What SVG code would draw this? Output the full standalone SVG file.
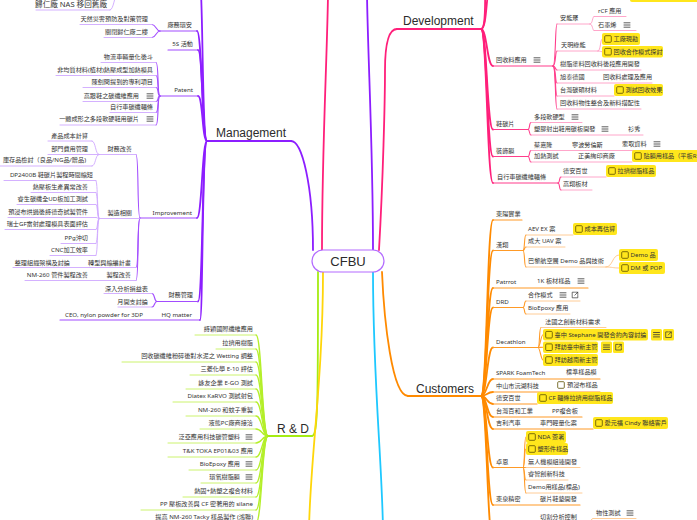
<svg xmlns="http://www.w3.org/2000/svg" width="697" height="520" viewBox="0 0 697 520">
<style>
text{font-family:"Noto Sans","Noto Sans CJK TC",sans-serif;font-size:6.15px;fill:#333}
.h{font-family:"Liberation Sans","Noto Sans CJK TC",sans-serif;font-size:12px;fill:#2b2b2b}
.c{font-size:13px;text-anchor:middle}
.big{font-size:7.6px}
.e{text-anchor:end}
path,line{fill:none;stroke-linecap:round}
.pm{stroke:#8c1eff;stroke-width:1.8}
.pd{stroke:#a24cff;stroke-width:1.1}
.pl{stroke:#cfa8ff;stroke-width:0.9}
.km{stroke:#ff1f7a;stroke-width:1.8}
.kd{stroke:#ff3d8b;stroke-width:1.1}
.kl{stroke:#ff9cc4;stroke-width:0.9}
.om{stroke:#ff8a00;stroke-width:1.8}
.od{stroke:#ff9a26;stroke-width:1.1}
.ol{stroke:#ffc68a;stroke-width:0.9}
.lm{stroke:#a5ec12;stroke-width:1.8}
.lc{stroke:#b4ef2a;stroke-width:1.3}
.ll{stroke:#c6f25e;stroke-width:0.9}
.ym{stroke:#ffd60a;stroke-width:1.8}
.cm{stroke:#1ec8ff;stroke-width:1.8}
.task{fill:#ffe61c}
</style>
<defs>
<path id="menu" d="M-3 -2.2H3M-3 0H3M-3 2.2H3" stroke="#333" stroke-width="0.8"/>
<path id="ext" d="M-0.5 -2.8H-2.8V2.8H2.8V0.5M0.5 -2.8H2.8V-0.5M2.8 -2.8L-0.2 0.2" stroke="#333" stroke-width="0.7" fill="none"/>
<rect id="cb" x="-3.3" y="-3.3" width="6.6" height="6.6" rx="1" fill="none" stroke="#5c4f00" stroke-width="0.8"/>
</defs>
<rect width="697" height="520" fill="#fff"/>

<g id="connectors">
<path class="pm" d="M313 250C313 185 302 141 291 141"/>
<path class="km" d="M322 250C322 150 327 60 328 -5"/>
<path class="pm" d="M373 250C373 150 368 60 367 -5"/>
<path class="km" d="M379 250C383 180 385 100 385 70C385 40 390 29 397 29"/>
<path class="lm" d="M318 272C318 400 318 436 312 436"/>
<path class="ym" d="M323 272C323 380 310 460 309 530"/>
<path class="cm" d="M373 272C373 380 382 460 383 530"/>
<path class="om" d="M382 272C384 320 392 396 408 396"/>
<path class="pm" d="M207 141C202 141 203 -10 200 -20"/>
<path class="pm" d="M207 141C202 141 202 31 197 31"/>
<path class="pm" d="M207 141C202 141 203 50 198 50"/>
<path class="pm" d="M207 141C202 141 203 96 198 96"/>
<path class="pm" d="M207 141C202 141 202 218 197 218"/>
<path class="pm" d="M207 141C202 141 203 301.5 198 301.5"/>
<path class="pm" d="M207 141C202 141 203 320 200 320"/>
<path class="pl" d="M110 10C114 10 114 -5 118 -8"/>
<path class="pd" d="M160 31C156 31 156 24.5 152 24.5"/>
<path class="pd" d="M160 31C156 31 156 37.5 152 37.5"/>
<path class="pd" d="M160 96C157 96 159 62.5 156 62.5"/>
<path class="pd" d="M160 96C157 96 159 75.5 156 75.5"/>
<path class="pd" d="M160 96C157 96 159 87.5 156 87.5"/>
<path class="pd" d="M160 96C157 96 159 101.5 156 101.5"/>
<path class="pd" d="M160 96C157 96 159 112.5 156 112.5"/>
<path class="pd" d="M160 96C157 96 159 125 156 125"/>
<path class="pd" d="M140 218C137 218 139 154.5 136 154.5"/>
<path class="pd" d="M140 218C137 218 139 267.5 136 267.5"/>
<path class="pd" d="M140 218C137 218 139 280.5 136 280.5"/>
<path class="pl" d="M99 154.5C95 154.5 96 141 92 141"/>
<path class="pl" d="M99 154.5C95 154.5 96 166 92 166"/>
<path class="pl" d="M99 218.5C97 218.5 98 180.5 96 180.5"/>
<path class="pl" d="M99 218.5C97 218.5 98 192.5 96 192.5"/>
<path class="pl" d="M99 218.5C97 218.5 98 204.5 96 204.5"/>
<path class="pl" d="M99 218.5C97 218.5 98 217.5 96 217.5"/>
<path class="pl" d="M99 218.5C97 218.5 98 229.5 96 229.5"/>
<path class="pl" d="M99 218.5C97 218.5 98 243.5 96 243.5"/>
<path class="pl" d="M99 218.5C97 218.5 98 255.5 96 255.5"/>
<path class="pd" d="M157 301.5C154 301.5 155 293.5 152 293.5"/>
<path class="pd" d="M157 301.5C154 301.5 155 307 152 307"/>
<path class="lc" d="M268 436C262 436 262 335 256 335"/>
<path class="lc" d="M268 436C262 436 262 349 256 349"/>
<path class="lc" d="M268 436C262 436 262 362 256 362"/>
<path class="lc" d="M268 436C262 436 262 375 256 375"/>
<path class="lc" d="M268 436C262 436 262 389 256 389"/>
<path class="lc" d="M268 436C262 436 262 402 256 402"/>
<path class="lc" d="M268 436C262 436 262 416 256 416"/>
<path class="lc" d="M268 436C262 436 262 429 256 429"/>
<path class="lc" d="M268 436C262 436 262 443 256 443"/>
<path class="lc" d="M268 436C262 436 262 457 256 457"/>
<path class="lc" d="M268 436C262 436 262 470 256 470"/>
<path class="lc" d="M268 436C262 436 262 483 256 483"/>
<path class="lc" d="M268 436C262 436 262 497 256 497"/>
<path class="lc" d="M268 436C262 436 262 510 256 510"/>
<path class="lc" d="M268 436C262 436 262 523 256 523"/>
<path class="km" d="M481 29C487 29 486 -5 490 -20"/>
<path class="km" d="M481 29C487 29 484 -5 486 -20"/>
<path class="km" d="M481 29C487 29 487 66 493 66"/>
<path class="km" d="M481 29C487 29 487 129.5 493 129.5"/>
<path class="km" d="M481 29C487 29 487 156.5 493 156.5"/>
<path class="km" d="M481 29C487 29 487 183 493 183"/>
<path class="kd" d="M553 66C556 66 555 24 557 24"/>
<path class="kd" d="M553 66C556 66 555 51 557 51"/>
<path class="kd" d="M553 66C556 66 555 70 557 70"/>
<path class="kd" d="M553 66C556 66 555 83 557 83"/>
<path class="kd" d="M553 66C556 66 555 96 557 96"/>
<path class="kd" d="M553 66C556 66 555 109 557 109"/>
<path class="kl" d="M590 24C593 24 592 16.5 594 16.5"/>
<path class="kl" d="M590 24C593 24 592 30.5 594 30.5"/>
<path class="kl" d="M598 51C601 51 600 39 602 39"/>
<path class="kl" d="M598 51C601 51 600 51.7 602 51.7"/>
<path class="kd" d="M528 129.5C530 129.5 529 122.5 531 122.5"/>
<path class="kd" d="M528 129.5C530 129.5 529 135 531 135"/>
<path class="kd" d="M528 156.5C530 156.5 529 150.5 531 150.5"/>
<path class="kd" d="M528 156.5C530 156.5 529 162 531 162"/>
<path class="kd" d="M558 183C560 183 559 177 561 177"/>
<path class="kd" d="M558 183C560 183 559 190 561 190"/>
<path class="om" d="M481 396C487 396 487 220 493 220"/>
<path class="om" d="M481 396C487 396 487 250.5 493 250.5"/>
<path class="om" d="M481 396C487 396 487 288 493 288"/>
<path class="om" d="M481 396C487 396 487 307.5 493 307.5"/>
<path class="om" d="M481 396C487 396 487 347.5 493 347.5"/>
<path class="om" d="M481 396C487 396 487 379 493 379"/>
<path class="om" d="M481 396C487 396 487 392 493 392"/>
<path class="om" d="M481 396C487 396 487 404 493 404"/>
<path class="om" d="M481 396C487 396 487 417 493 417"/>
<path class="om" d="M481 396C487 396 487 429 493 429"/>
<path class="om" d="M481 396C487 396 487 467.5 493 467.5"/>
<path class="om" d="M481 396C487 396 487 505 493 505"/>
<path class="om" d="M481 396C487 396 487 540 493 540"/>
<path class="od" d="M523 250.5C525 250.5 524 235 526 235"/>
<path class="od" d="M523 250.5C525 250.5 524 247 526 247"/>
<path class="od" d="M523 250.5C525 250.5 524 267 526 267"/>
<path class="ol" d="M606 267C613 267 612 255 619 255"/>
<path class="ol" d="M606 267C613 267 612 268 619 268"/>
<path class="od" d="M523 307.5C525 307.5 524 301 526 301"/>
<path class="od" d="M523 307.5C525 307.5 524 314 526 314"/>
<path class="od" d="M538 347.5C540 347.5 539 327.5 541 327.5"/>
<path class="od" d="M538 347.5C540 347.5 541 334.7 543 334.7"/>
<path class="od" d="M538 347.5C540 347.5 541 347.2 543 347.2"/>
<path class="od" d="M538 347.5C540 347.5 541 360 543 360"/>
<path class="od" d="M523 467.5C525 467.5 524 437 526 437"/>
<path class="od" d="M523 467.5C525 467.5 524 449 526 449"/>
<path class="od" d="M523 467.5C525 467.5 524 467.5 526 467.5"/>
<path class="od" d="M523 467.5C525 467.5 524 480 526 480"/>
<path class="od" d="M523 467.5C525 467.5 524 493 526 493"/>
<path class="ol" d="M585 530C589 530 589 518.5 593 518.5"/>
</g>

<g id="cfbu"><rect x="312" y="250" width="72" height="22" rx="11" fill="#fff" stroke="#b36bff" stroke-width="1.2"/><text class="h c" x="348" y="266">CFBU</text></g>

<g id="management"><text class="h" x="216" y="136.5">Management</text><line class="pm" x1="207" y1="141" x2="291" y2="141"/></g>
<g id="m-nas"><text class="e big" x="107" y="7">歸仁廠 NAS 移回舊廠</text><line class="pl" x1="36" y1="10" x2="110" y2="10"/></g>
<g id="m-env"><text class="e" x="192" y="27.2">廠務環安</text><line class="pd" x1="160" y1="31" x2="197" y2="31"/></g>
<g id="m-env1"><text class="e" x="148" y="21.2">天然災害預防及對策管理</text><line class="pl" x1="80" y1="24.5" x2="152" y2="24.5"/></g>
<g id="m-env2"><text class="e" x="148" y="34.2">關閉歸仁廠二樓</text><line class="pl" x1="104" y1="37.5" x2="152" y2="37.5"/></g>
<g id="m-5s"><text class="e" x="193" y="46.2">5S 活動</text><line class="pd" x1="168" y1="50" x2="198" y2="50"/></g>
<g id="m-patent"><text class="e" x="193" y="92.2">Patent</text><line class="pd" x1="160" y1="96" x2="198" y2="96"/></g>
<g id="m-p1"><text class="e" x="153" y="59.2">物流車輛量化後斗</text><line class="pl" x1="101" y1="62.5" x2="156" y2="62.5"/></g>
<g id="m-p2"><text class="e" x="153" y="72.2">非均質材料(植材)熱壓成型加熱模具</text><line class="pl" x1="56" y1="75.5" x2="156" y2="75.5"/></g>
<g id="m-p3"><text class="e" x="153" y="84.2">陳劍問提到的專利項目</text><line class="pl" x1="83" y1="87.5" x2="156" y2="87.5"/></g>
<g id="m-p4"><text class="e" x="139" y="98.2">高跟鞋之碳纖維應用</text><use href="#menu" x="150" y="96"/><line class="pl" x1="83" y1="101.5" x2="156" y2="101.5"/></g>
<g id="m-p5"><text class="e" x="153" y="109.2">自行車碳纖輻條</text><line class="pl" x1="110" y1="112.5" x2="156" y2="112.5"/></g>
<g id="m-p6"><text class="e" x="139" y="121.2">一體成形之多段軟硬鞋用碳片</text><use href="#menu" x="150" y="119"/><line class="pl" x1="60" y1="125" x2="156" y2="125"/></g>
<g id="m-imp"><text class="e" x="192" y="215.2">Improvement</text><line class="pd" x1="140" y1="218" x2="197" y2="218"/></g>
<g id="m-fin"><text class="e" x="132" y="151.2">財務改善</text><line class="pl" x1="99" y1="154.5" x2="136" y2="154.5"/></g>
<g id="m-fin1"><text class="e" x="88" y="138.2">產品成本計算</text><line class="pl" x1="48" y1="141" x2="92" y2="141"/></g>
<g id="m-fin2"><text class="e" x="88" y="151.2">部門費用管理</text><line class="pl" x1="48" y1="154.5" x2="99" y2="154.5"/></g>
<g id="m-fin3"><text class="e" x="86" y="162.2">庫存品檢討（良品/NG品/贈品)</text><line class="pl" x1="0" y1="166" x2="92" y2="166"/></g>
<g id="m-mfg"><text class="e" x="132" y="215.2">製造相關</text><line class="pl" x1="99" y1="218.5" x2="140" y2="218.5"/></g>
<g id="m-mfg1"><text class="e" x="93" y="177.2">DP2400B 鞋碳片製程時間縮短</text><line class="pl" x1="4" y1="180.5" x2="96" y2="180.5"/></g>
<g id="m-mfg2"><text class="e" x="88" y="189.2">熱壓板生產異常改善</text><line class="pl" x1="31" y1="192.5" x2="96" y2="192.5"/></g>
<g id="m-mfg3"><text class="e" x="88" y="201.2">睿生碳纖全UD板加工測試</text><line class="pl" x1="17" y1="204.5" x2="96" y2="204.5"/></g>
<g id="m-mfg4"><text class="e" x="88" y="214.2">預浸布烘過後詩德奇試製管件</text><line class="pl" x1="8" y1="217.5" x2="96" y2="217.5"/></g>
<g id="m-mfg5"><text class="e" x="88" y="226.2">瑞士GF雷射處理模具表面評估</text><line class="pl" x1="5" y1="229.5" x2="96" y2="229.5"/></g>
<g id="m-mfg6"><text class="e" x="88" y="240.2">PPg沖切</text><line class="pl" x1="61" y1="243.5" x2="96" y2="243.5"/></g>
<g id="m-mfg7"><text class="e" x="88" y="252.2">CNC加工效率</text><line class="pl" x1="50" y1="255.5" x2="96" y2="255.5"/></g>
<g id="m-trans"><text class="e" x="131" y="265.2">轉型與縮編計畫</text><text class="e" x="70" y="265.2">整理組織架構及討論</text><line class="pl" x1="13" y1="267.5" x2="136" y2="267.5"/></g>
<g id="m-proc"><text class="e" x="131" y="277.2">製程改善</text><text class="e" x="88" y="277.2">NM-260 管件製程改善</text><line class="pl" x1="25" y1="280.5" x2="136" y2="280.5"/></g>
<g id="m-fm"><text class="e" x="193" y="297.2">財務管理</text><line class="pd" x1="157" y1="301.5" x2="198" y2="301.5"/></g>
<g id="m-fm1"><text class="e" x="148" y="291.2">深入分析損益表</text><line class="pl" x1="104" y1="293.5" x2="152" y2="293.5"/></g>
<g id="m-fm2"><text class="e" x="148" y="304.2">月開支討論</text><line class="pl" x1="118" y1="307" x2="152" y2="307"/></g>
<g id="m-hq"><text class="e" x="192" y="317.2">HQ matter</text><text class="e" x="143" y="317.2">CEO, nylon powder for 3DP</text><line class="pd" x1="60" y1="320" x2="200" y2="320"/></g>

<g id="rd"><text class="h" x="277" y="432.5">R &amp; D</text><line class="lm" x1="268" y1="436" x2="312" y2="436"/></g>
<g id="rd1"><text class="e" x="253" y="331.2">詩穎國際纖維應用</text><line class="ll" x1="195" y1="335" x2="256" y2="335"/></g>
<g id="rd2"><text class="e" x="253" y="345.2">拉擠用樹脂</text><line class="ll" x1="216" y1="349" x2="256" y2="349"/></g>
<g id="rd3"><text class="e" x="253" y="358.2">回收碳纖維粉碎後對水泥之 Wetting 調整</text><line class="ll" x1="122" y1="362" x2="256" y2="362"/></g>
<g id="rd4"><text class="e" x="253" y="371.2">三菱化學 E-10 評估</text><line class="ll" x1="190" y1="375" x2="256" y2="375"/></g>
<g id="rd5"><text class="e" x="253" y="385.2">詠友企業 E-GO 測試</text><line class="ll" x1="186" y1="389" x2="256" y2="389"/></g>
<g id="rd6"><text class="e" x="253" y="398.2">Diatex KaRVO 測試射包</text><line class="ll" x1="173" y1="402" x2="256" y2="402"/></g>
<g id="rd7"><text class="e" x="253" y="412.2">NM-260 和蚊子重製</text><line class="ll" x1="186" y1="416" x2="256" y2="416"/></g>
<g id="rd8"><text class="e" x="253" y="425.2">液態PC廠商接洽</text><line class="ll" x1="200" y1="429" x2="256" y2="429"/></g>
<g id="rd9"><text class="e" x="240" y="439.2">泛亞應用科技碳管塑料</text><use href="#menu" x="249" y="437"/><line class="ll" x1="168" y1="443" x2="256" y2="443"/></g>
<g id="rd10"><text class="e" x="253" y="453.2">T&amp;K TOKA EP01&amp;03 應用</text><line class="ll" x1="168" y1="457" x2="256" y2="457"/></g>
<g id="rd11"><text class="e" x="240" y="466.2">BioEpoxy 應用</text><use href="#menu" x="249" y="464"/><line class="ll" x1="189" y1="470" x2="256" y2="470"/></g>
<g id="rd12"><text class="e" x="240" y="479.2">環氧樹脂膜</text><use href="#menu" x="249" y="477"/><line class="ll" x1="201" y1="483" x2="256" y2="483"/></g>
<g id="rd13"><text class="e" x="253" y="493.2">熱固+熱塑之複合材料</text><line class="ll" x1="183" y1="497" x2="256" y2="497"/></g>
<g id="rd14"><text class="e" x="253" y="506.2">PP 壓板改善與 CF 密著用的 silane</text><line class="ll" x1="141" y1="510" x2="256" y2="510"/></g>
<g id="rd15"><text class="e" x="253" y="518.8">提高 NM-260 Tacky 樣品製作 (鴻聯)</text><line class="ll" x1="136" y1="523" x2="256" y2="523"/></g>

<g id="dev"><text class="h" x="403" y="24.5">Development</text><line class="km" x1="397" y1="29" x2="481" y2="29"/></g>
<rect class="task" x="630" y="-9" width="70" height="11" rx="2"/>
<g id="d-rec"><text x="496" y="62.2">回收料應用</text><use href="#menu" x="537" y="60"/><line class="kd" x1="493" y1="66" x2="553" y2="66"/></g>
<g id="d-r1"><text x="560" y="20.2">安能聚</text><line class="kl" x1="557" y1="24" x2="590" y2="24"/></g>
<g id="d-r1a"><text x="598" y="13.2">rCF 應用</text><line class="kl" x1="594" y1="16.5" x2="626" y2="16.5"/></g>
<g id="d-r1b"><text x="598" y="27.2">石墨烯</text><use href="#menu" x="627" y="25"/><line class="kl" x1="594" y1="30.5" x2="636" y2="30.5"/></g>
<g id="d-r2"><text x="561" y="47.2">天明綠能</text><line class="kl" x1="557" y1="51" x2="598" y2="51"/></g>
<g id="d-r2a"><rect class="task" x="602" y="33" width="38" height="12" rx="2"/><use href="#cb" x="608" y="39"/><text x="613.5" y="41.2">工廠現勘</text></g>
<g id="d-r2b"><rect class="task" x="602" y="46" width="61" height="11.5" rx="2"/><use href="#cb" x="608" y="51.7"/><text x="613.5" y="53.9">回收合作模式探討</text></g>
<g id="d-r3"><text x="560" y="66.2">樹脂塗料回收料後段應用開發</text><line class="kl" x1="557" y1="70" x2="641" y2="70"/></g>
<g id="d-r4"><text x="560" y="79.2">旭泰德國</text><text x="603" y="79.2">回收料處理及應用</text><line class="kl" x1="557" y1="83" x2="652" y2="83"/></g>
<g id="d-r5"><text x="560" y="92.2">台灣碳碩材料</text><line class="kl" x1="557" y1="96" x2="614" y2="96"/><rect class="task" x="614" y="84" width="49" height="12" rx="2"/><use href="#cb" x="620" y="90"/><text x="625.5" y="92.2">測試回收效果</text></g>
<g id="d-r6"><text x="560" y="105.2">回收料物性整合及新料搭配性</text><line class="kl" x1="557" y1="109" x2="641" y2="109"/></g>
<g id="d-shoe"><text x="496" y="126.2">鞋碳片</text><line class="kd" x1="493" y1="129.5" x2="528" y2="129.5"/></g>
<g id="d-s1"><text x="534" y="119.2">多段軟硬型</text><use href="#menu" x="575" y="117"/><line class="kl" x1="531" y1="122.5" x2="582" y2="122.5"/></g>
<g id="d-s2"><text x="534" y="131.2">塑膠射出鞋用碳板開發</text><use href="#menu" x="605" y="129"/><text x="628" y="131.2">衫秀</text><line class="kl" x1="531" y1="135" x2="643" y2="135"/></g>
<g id="d-film"><text x="496" y="153.2">裝飾膜</text><line class="kd" x1="493" y1="156.5" x2="528" y2="156.5"/></g>
<g id="d-f1"><text x="534" y="147.2">蔡嘉隆</text><text x="572" y="147.2">寧波勞倫斯</text><text x="622" y="146.2">索取資料</text><use href="#menu" x="657" y="144"/><line class="kl" x1="531" y1="150.5" x2="665" y2="150.5"/></g>
<g id="d-f2"><text x="534" y="158.2">加熱測試</text><text x="578" y="158.2">正美絢印商廠</text><line class="kl" x1="531" y1="162" x2="632" y2="162"/><rect class="task" x="632" y="150" width="70" height="12" rx="2"/><use href="#cb" x="638" y="156"/><text x="643.5" y="158.2">貼膜用樣品（平板R</text></g>
<g id="d-bike"><text x="497" y="179.2">自行車碳纖維輻條</text><line class="kd" x1="493" y1="183" x2="558" y2="183"/></g>
<g id="d-b1"><text x="563" y="173.2">德安百世</text><line class="kl" x1="561" y1="177" x2="606" y2="177"/><rect class="task" x="606" y="165" width="50" height="12" rx="2"/><use href="#cb" x="612" y="171"/><text x="617.5" y="173.2">拉擠樹脂樣品</text></g>
<g id="d-b2"><text x="563" y="186.2">高翔板材</text><line class="kl" x1="561" y1="190" x2="592" y2="190"/></g>

<g id="cust"><text class="h" x="416" y="392.5">Customers</text><line class="om" x1="408" y1="396" x2="481" y2="396"/></g>
<g id="c1"><text x="496" y="216.2">東陽實業</text><line class="od" x1="493" y1="220" x2="522" y2="220"/></g>
<g id="c2"><text x="496" y="247.2">漢翔</text><line class="od" x1="493" y1="250.5" x2="523" y2="250.5"/></g>
<g id="c2a"><text x="528" y="231.2">AEV EX 案</text><line class="ol" x1="526" y1="235" x2="573" y2="235"/><rect class="task" x="573" y="223" width="44" height="12" rx="2"/><use href="#cb" x="579" y="229"/><text x="584.5" y="231.2">成本再估算</text></g>
<g id="c2b"><text x="528" y="243.2">成大 UAV 案</text><line class="ol" x1="526" y1="247" x2="565" y2="247"/></g>
<g id="c2c"><text x="528" y="263.2">巴黎航空展 Demo 品與技術</text><line class="ol" x1="526" y1="267" x2="606" y2="267"/></g>
<g id="c2c1"><rect class="task" x="619" y="249" width="39" height="12" rx="2"/><use href="#cb" x="625" y="255"/><text x="630.5" y="257.2">Demo 品</text></g>
<g id="c2c2"><rect class="task" x="619" y="262" width="46" height="12" rx="2"/><use href="#cb" x="625" y="268"/><text x="630.5" y="270.2">DM 或 POP</text></g>
<g id="c3"><text x="496" y="284.2">Patrrot</text><text x="537" y="283.2">1K 板材樣品</text><use href="#menu" x="581" y="281"/><line class="od" x1="493" y1="288" x2="588" y2="288"/></g>
<g id="c4"><text x="496" y="304.2">DRD</text><line class="od" x1="493" y1="307.5" x2="523" y2="307.5"/></g>
<g id="c4a"><text x="528" y="297.2">合作模式</text><use href="#menu" x="563" y="295"/><use href="#ext" x="575" y="295"/><line class="ol" x1="526" y1="301" x2="580" y2="301"/></g>
<g id="c4b"><text x="528" y="310.2">BioEpoxy 應用</text><line class="ol" x1="526" y1="314" x2="570" y2="314"/></g>
<g id="c5"><text x="496" y="344.2">Decathlon</text><line class="od" x1="493" y1="347.5" x2="538" y2="347.5"/></g>
<g id="c5a"><text x="545" y="324.2">法國之創新材料需求</text><line class="ol" x1="541" y1="327.5" x2="606" y2="327.5"/></g>
<g id="c5b"><rect class="task" x="543" y="329" width="105" height="11.5" rx="2"/><use href="#cb" x="549" y="334.7"/><text x="554.5" y="336.9">臺中 Stephane 開發合約內容討論</text><rect class="task" x="651" y="329" width="11" height="11.5" rx="1.5"/><use href="#menu" x="656.5" y="334.7"/><rect class="task" x="663" y="329" width="11" height="11.5" rx="1.5"/><use href="#ext" x="668.5" y="334.7"/></g>
<g id="c5c"><rect class="task" x="543" y="341.5" width="55" height="11.5" rx="2"/><use href="#cb" x="549" y="347.2"/><text x="554.5" y="349.4">拜訪臺中新主管</text><rect class="task" x="601" y="341.5" width="11" height="11.5" rx="1.5"/><use href="#menu" x="606.5" y="347.2"/><rect class="task" x="613" y="341.5" width="11" height="11.5" rx="1.5"/><use href="#ext" x="618.5" y="347.2"/></g>
<g id="c5d"><rect class="task" x="543" y="354" width="55" height="12" rx="2"/><use href="#cb" x="549" y="360"/><text x="554.5" y="362.2">拜訪越南新主管</text></g>
<g id="c6"><text x="496" y="375.2">SPARK FoamTech</text><text x="566" y="374.2">標準樣品模</text><line class="od" x1="493" y1="379" x2="600" y2="379"/></g>
<g id="c7"><text x="496" y="388.2">中山市沅湖科技</text><use href="#cb" x="561" y="385"/><text x="567" y="387.2">預浸布樣品</text><line class="od" x1="493" y1="392" x2="600" y2="392"/></g>
<g id="c8"><text x="496" y="400.2">德安百世</text><line class="od" x1="493" y1="404" x2="537" y2="404"/><rect class="task" x="537" y="392" width="76" height="12" rx="2"/><use href="#cb" x="543" y="398"/><text x="548.5" y="400.2">CF 輻條拉擠用樹脂樣品</text></g>
<g id="c9"><text x="496" y="413.2">台灣百和工業</text><text x="552" y="413.2">PP複合板</text><line class="od" x1="493" y1="417" x2="582" y2="417"/></g>
<g id="c10"><text x="496" y="425.2">吉利汽車</text><text x="540" y="425.2">車門輕量化案</text><line class="od" x1="493" y1="429" x2="593" y2="429"/><rect class="task" x="593" y="417" width="75" height="12" rx="2"/><use href="#cb" x="599" y="423"/><text x="604.5" y="425.2">愛元福 Cindy 聯絡客戶</text></g>
<g id="c11"><text x="496" y="464.2">卓恩</text><line class="od" x1="493" y1="467.5" x2="523" y2="467.5"/></g>
<g id="c11a"><rect class="task" x="526" y="431" width="40" height="12" rx="2"/><use href="#cb" x="532" y="437"/><text x="537.5" y="439.2">NDA 簽署</text></g>
<g id="c11b"><rect class="task" x="526" y="443" width="42" height="12" rx="2"/><use href="#cb" x="532" y="449"/><text x="537.5" y="451.2">塑形件樣品</text></g>
<g id="c11c"><text x="528" y="464.2">無人機模組連開發</text><line class="ol" x1="526" y1="467.5" x2="580" y2="467.5"/></g>
<g id="c11d"><text x="528" y="476.2">睿智創新科技</text><line class="ol" x1="526" y1="480" x2="568" y2="480"/></g>
<g id="c11e"><text x="528" y="489.2">Demo用樣品(標品)</text><line class="ol" x1="526" y1="493" x2="582" y2="493"/></g>
<g id="c12"><text x="496" y="501.2">東泉精密</text><text x="540" y="501.2">碳片鞋墊開發</text><line class="od" x1="493" y1="505" x2="580" y2="505"/></g>
<g id="c13"><text x="596" y="515.2">物性測試</text><use href="#menu" x="630" y="513"/><line class="ol" x1="593" y1="518.5" x2="636" y2="518.5"/></g>
<g id="c14"><text x="540" y="518.6">切割分析控制</text></g>
</svg>
